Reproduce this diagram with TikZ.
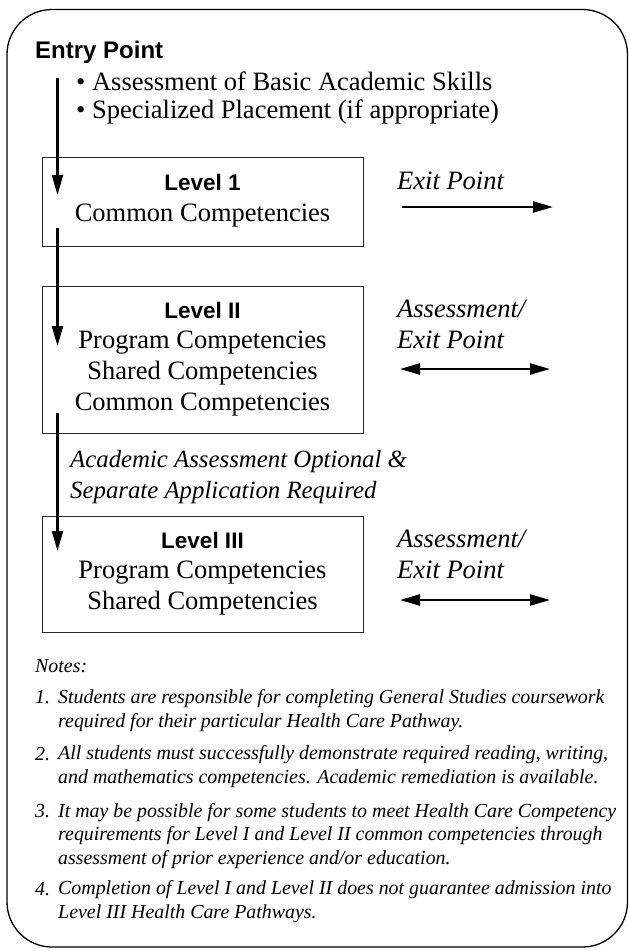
\documentclass[tikz,border=0pt]{standalone}
\usepackage{fontspec}
\setmainfont{Liberation Serif}
\newfontfamily\headsans{Liberation Sans}
\usetikzlibrary{arrows.meta}
\begin{document}
\begin{tikzpicture}[x=1pt,y=-1pt,
  lvl/.style={draw=black!85, line width=1.3pt, minimum width=321pt, inner sep=0pt, anchor=north west},
  head/.style={anchor=base, inner sep=0pt, font=\headsans\bfseries\fontsize{22.5}{26}\selectfont},
  line/.style={anchor=base, inner sep=0pt, font=\fontsize{26.5}{30}\selectfont},
  body/.style={anchor=base west, inner sep=0pt, font=\fontsize{26.5}{30}\selectfont},
  side/.style={anchor=base west, inner sep=0pt, font=\itshape\fontsize{26.5}{30}\selectfont},
  note/.style={anchor=base west, inner sep=0pt, align=left, font=\itshape\fontsize{19.9}{23.5}\selectfont},
  flow/.style={line width=2.4pt, -{Triangle[length=20pt,width=11pt]}},
  both/.style={line width=2.4pt, {Triangle[length=20pt,width=11pt]}-{Triangle[length=20pt,width=11pt]}}
]
\useasboundingbox (0,0) rectangle (629,951);
\draw[line width=1.3pt, rounded corners=45pt] (7,9.5) rectangle (627.5,947);

% entry
\node[head, anchor=base west, font=\headsans\bfseries\fontsize{24}{26}\selectfont] (entry) at (35,58) {Entry Point};
\node[body] (b1) at (76,90) {\textbullet\ Assessment of Basic Academic Skills};
\node[body] (b2) at (76,118) {\textbullet\ Specialized Placement (if appropriate)};

% level boxes
\node[lvl, minimum height=89pt] (L1) at (42,157) {};
\node[head] (L1h) at (202.5,190) {Level 1};
\node[line] (L1a) at (202.5,221) {Common Competencies};

\node[lvl, minimum height=147pt] (L2) at (42,286) {};
\node[head] (L2h) at (202.5,318) {Level II};
\node[line] (L2a) at (202.5,348) {Program Competencies};
\node[line] (L2b) at (202.5,379) {Shared Competencies};
\node[line] (L2c) at (202.5,410) {Common Competencies};

\node[lvl, minimum height=116pt] (L3) at (42,516) {};
\node[head] (L3h) at (202.5,548) {Level III};
\node[line] (L3a) at (202.5,578) {Program Competencies};
\node[line] (L3b) at (202.5,609) {Shared Competencies};

% side labels
\node[side] (x1) at (397,189) {Exit Point};
\node[side] (x2a) at (397,317) {Assessment/};
\node[side] (x2b) at (397,348) {Exit Point};
\node[side] (x3a) at (397,547) {Assessment/};
\node[side] (x3b) at (397,578) {Exit Point};

\node[side, font=\itshape\fontsize{24.8}{30}\selectfont] (aa1) at (70,467) {Academic Assessment Optional \&};
\node[side, font=\itshape\fontsize{24.8}{30}\selectfont] (aa2) at (70,498) {Separate Application Required};

% vertical flow
\coordinate (e1s) at (57.5,78);  \coordinate (e1e) at (57.5,195);
\coordinate (e2s) at (57.5,228); \coordinate (e2e) at (57.5,346);
\coordinate (e3s) at (57.5,413); \coordinate (e3e) at (57.5,551);
\draw[flow] (e1s) -- (e1e);
\draw[flow] (e2s) -- (e2e);
\draw[flow] (e3s) -- (e3e);

% exit arrows
\coordinate (r1s) at (402,207); \coordinate (r1e) at (553,207);
\coordinate (r2s) at (400,369); \coordinate (r2e) at (550,369);
\coordinate (r3s) at (400,600); \coordinate (r3e) at (550,600);
\draw[flow] (r1s) -- (r1e);
\draw[both] (r2s) -- (r2e);
\draw[both] (r3s) -- (r3e);

% notes (multi-line nodes: base = last line)
\node[note] (notes) at (35,672) {Notes:};
\node[note] (n1n) at (35,703) {1.};
\node[note] (n1) at (58,727) {Students are responsible for completing General Studies coursework\\ required for their particular Health Care Pathway.};
\node[note] (n2n) at (35,760) {2.};
\node[note] (n2) at (58,783) {All students must successfully demonstrate required reading, writing,\\ and mathematics competencies. Academic remediation is available.};
\node[note] (n3n) at (35,817) {3.};
\node[note] (n3) at (58,864) {It may be possible for some students to meet Health Care Competency\\ requirements for Level I and Level II common competencies through\\ assessment of prior experience and/or education.};
\node[note] (n4n) at (35,895) {4.};
\node[note] (n4) at (58,918) {Completion of Level I and Level II does not guarantee admission into\\ Level III Health Care Pathways.};
\end{tikzpicture}
\end{document}
